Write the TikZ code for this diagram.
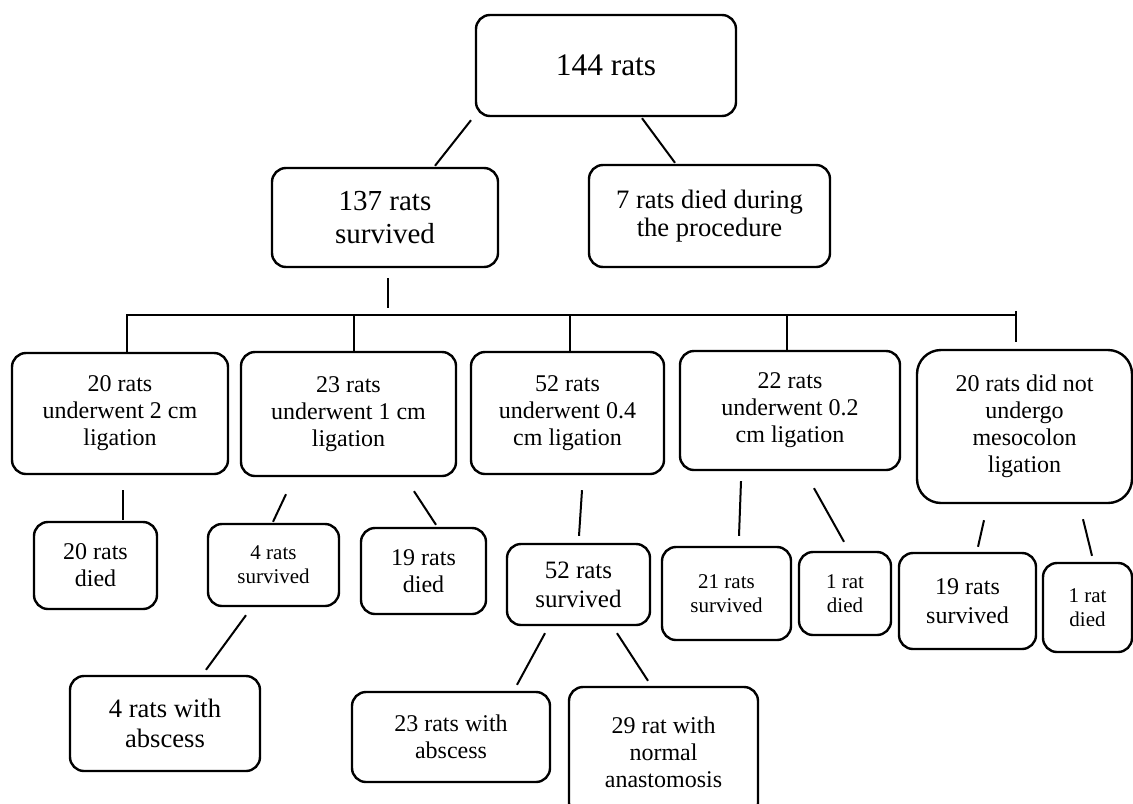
\documentclass[tikz,border=0pt]{standalone}
\usepackage{fontspec}
\setmainfont{Liberation Serif}
\usetikzlibrary{positioning}
\tikzset{
  rat box/.style   = {draw, rounded corners=7pt, line width=1.2pt,
                      align=center, inner sep=1pt, font=\fontsize{12}{13.5}\selectfont},
  top box/.style   = {rat box, font=\fontsize{14.5}{16.7}\selectfont},
  small box/.style = {rat box, font=\fontsize{10.5}{12}\selectfont},
  link/.style      = {line width=1pt},
}
\begin{document}
\begin{tikzpicture}[x=0.5pt,y=-0.5pt]
  \useasboundingbox (0,0) rectangle (1133,803);

  % first split
  \node[top box, minimum width=130pt, minimum height=50.5pt,
        font=\fontsize{15.7}{18}\selectfont] (root) at (606,65.5) {144 rats};
  \node[top box, minimum width=113pt, minimum height=49.5pt] (surv) at (385,217.5) {137 rats\\survived};
  \node[top box, minimum width=120.5pt, minimum height=51pt,
        font=\fontsize{13.3}{14.2}\selectfont] (died) at (709.5,216) {7 rats died during\\the procedure};

  % ligation groups
  \node[rat box, minimum width=108pt, minimum height=60.5pt] (lig2) at (120,413.5) {20 rats\\underwent 2 cm\\ligation};
  \node[rat box, minimum width=107.5pt, minimum height=62pt] (lig1) at (348.5,414) {23 rats\\underwent 1 cm\\ligation};
  \node[rat box, minimum width=96.5pt, minimum height=61pt] (ligA) at (567.5,413) {52 rats\\underwent 0.4\\cm ligation};
  \node[rat box, minimum width=110pt, minimum height=59.5pt] (ligB) at (790,410.5) {22 rats\\underwent 0.2\\cm ligation};
  \node[rat box, rounded corners=12pt, minimum width=107.5pt, minimum height=76.5pt] (none) at (1024.5,426.5) {20 rats did not\\undergo\\mesocolon\\ligation};

  % outcomes
  \node[rat box, minimum width=61.5pt, minimum height=43.5pt] (lig2d) at (95.5,565.5) {20 rats\\died};
  \node[small box, minimum width=65.5pt, minimum height=41pt] (lig1s) at (273.5,565) {4 rats\\survived};
  \node[rat box, minimum width=62.5pt, minimum height=43pt] (lig1d) at (423.5,571) {19 rats\\died};
  \node[rat box, minimum width=95pt, minimum height=47.5pt,
        font=\fontsize{13.3}{15}\selectfont] (lig1a) at (165,723.5) {4 rats with\\abscess};
  \node[rat box, minimum width=71.5pt, minimum height=40.5pt,
        font=\fontsize{12.5}{14.5}\selectfont] (ligAs) at (578.5,584.5) {52 rats\\survived};
  \node[rat box, minimum width=99pt, minimum height=45pt] (ligAa) at (451,737) {23 rats with\\abscess};
  \node[rat box, minimum width=94.5pt, minimum height=65pt] (ligAn) at (663.5,752) {29 rat with\\normal\\anastomosis};
  \node[small box, minimum width=64.5pt, minimum height=46.5pt] (ligBs) at (726.5,593.5) {21 rats\\survived};
  \node[small box, minimum width=46pt, minimum height=41.5pt] (ligBd) at (845,593.5) {1 rat\\died};
  \node[rat box, minimum width=68.5pt, minimum height=48pt,
        font=\fontsize{12}{14.3}\selectfont] (nones) at (967.5,601) {19 rats\\survived};
  \node[small box, minimum width=44.5pt, minimum height=44.5pt] (noned) at (1087.5,607.5) {1 rat\\died};

  % connectors
  \draw[link] ([shift={(-135,3)}]root.south) -- ([shift={(50,-1)}]surv.north);
  \draw[link] ([shift={(36,1)}]root.south) -- ([shift={(-34.5,-1)}]died.north);
  \draw[link] ([shift={(3,10)}]surv.south) -- ([shift={(3,40)}]surv.south);
  \draw[link] ([shift={(7,0)}]lig2.north) |- ([shift={(-8.5,-34)}]none.north);
  \draw[link] ([shift={(-8.5,-38)}]none.north) -- ([shift={(-8.5,-7)}]none.north);
  \draw[link] ([shift={(5.5,0)}]lig1.north) -- ++(0,-36);
  \draw[link] ([shift={(2.5,0)}]ligA.north) -- ++(0,-36);
  \draw[link] ([shift={(-3,0)}]ligB.north) -- ++(0,-35);

  \draw[link] ([shift={(3,15)}]lig2.south) -- ([shift={(27.5,-1)}]lig2d.north);
  \draw[link] ([shift={(-62.5,17)}]lig1.south) -- ([shift={(-0.5,-1)}]lig1s.north);
  \draw[link] ([shift={(65.5,14)}]lig1.south) -- ([shift={(12.5,-2)}]lig1d.north);
  \draw[link] ([shift={(-27.5,8)}]lig1s.south) -- ([shift={(41,-5)}]lig1a.north);
  \draw[link] ([shift={(14.5,15)}]ligA.south) -- ([shift={(0.5,-7)}]ligAs.north);
  \draw[link] ([shift={(-33.5,7)}]ligAs.south) -- ([shift={(66,-6)}]ligAa.north);
  \draw[link] ([shift={(38.5,7)}]ligAs.south) -- ([shift={(-15.5,-5)}]ligAn.north);
  \draw[link] ([shift={(-49,10)}]ligB.south) -- ([shift={(12.5,-10)}]ligBs.north);
  \draw[link] ([shift={(24,17)}]ligB.south) -- ([shift={(-1,-9)}]ligBd.north);
  \draw[link] ([shift={(-40.5,16)}]none.south) -- ([shift={(10.5,-5)}]nones.north);
  \draw[link] ([shift={(58.5,15)}]none.south) -- ([shift={(4.5,-6)}]noned.north);
\end{tikzpicture}
\end{document}
